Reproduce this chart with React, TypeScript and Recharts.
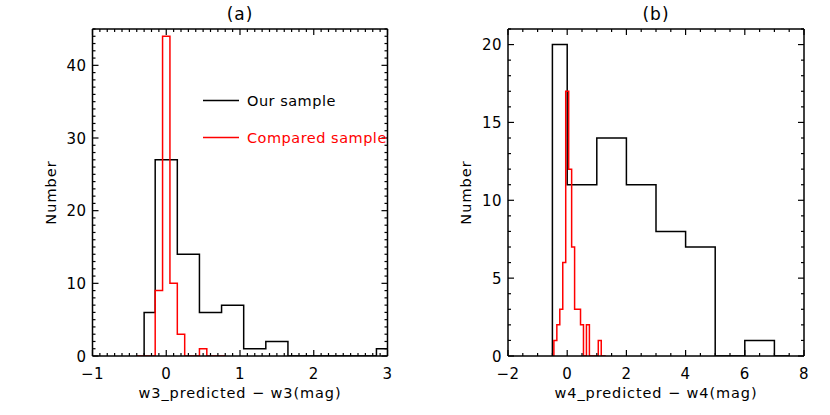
import React from "react";
import { LineChart, Line, XAxis, YAxis, Label } from "recharts";

// ── panel (a): w3 residuals ──
const blackCentersA = [-0.3, 0, 0.3, 0.6, 0.9, 1.2, 1.5, 1.8, 2.1, 2.4, 2.7, 3.0];
const blackCountsA = [6, 27, 14, 6, 7, 1, 2, 0, 0, 0, 0, 1];
const redCentersA = [-0.4, -0.3, -0.2, -0.1, 0, 0.1, 0.2, 0.3, 0.4, 0.5, 0.6, 0.7, 0.8];
const redCountsA = [0, 0, 0, 9, 44, 10, 3, 0, 0, 1, 0, 0, 0];
const xLabelsA = [-1, 0, 1, 2, 3];
const yLabelsA = [0, 10, 20, 30, 40];

// ── panel (b): w4 residuals ──
const blackCentersB = [-0.5, 0.5, 1.5, 2.5, 3.5, 4.5, 5.5, 6.5, 7.5];
const blackCountsB = [20, 11, 14, 11, 8, 7, 0, 1, 0];
const redCentersB = [-0.5, -0.4, -0.3, -0.2, -0.1, 0, 0.1, 0.2, 0.3, 0.4, 0.5, 0.6, 0.7, 0.8, 0.9, 1.0, 1.1, 1.2, 1.3];
const redCountsB = [0, 1, 2, 3, 6, 17, 12, 7, 3, 3, 2, 0, 2, 0, 0, 0, 1, 0, 0];
const xLabelsB = [-2, 0, 2, 4, 6, 8];
const yLabelsB = [0, 5, 10, 15, 20];

const legendItems = [
  { name: "Our sample", color: "#000000" },
  { name: "Compared sample", color: "#ff0000" },
];

const FONT = "'DejaVu Sans', sans-serif";

// IDL psym=10 style: half bins at the ends, plus a riser at the first point
function steps(centers: number[], counts: number[]) {
  const pts = [{ x: centers[0], y: 0 }, { x: centers[0], y: counts[0] }];
  for (let i = 1; i < centers.length; i++) {
    pts.push({ x: (centers[i - 1] + centers[i]) / 2, y: counts[i] });
  }
  pts.push({ x: centers[centers.length - 1], y: counts[counts.length - 1] });
  return pts;
}

function range(lo: number, hi: number, step: number) {
  const out: number[] = [];
  const n = Math.round((hi - lo) / step);
  for (let i = 0; i <= n; i++) out.push(+(lo + i * step).toFixed(6));
  return out;
}

const isMajor = (v: number, majors: number[]) => majors.some(m => Math.abs(m - v) < 1e-6);

function makeTick(side: "bottom" | "top" | "left" | "right", majors: number[]) {
  return (props: any) => {
    const { x, y, payload } = props;
    const v = payload.value;
    const major = isMajor(v, majors);
    const len = major ? 6 : 3;
    let line;
    if (side === "bottom") line = <line x1={x} y1={y} x2={x} y2={y - len} />;
    else if (side === "top") line = <line x1={x} y1={y} x2={x} y2={y + len} />;
    else if (side === "left") line = <line x1={x} y1={y} x2={x + len} y2={y} />;
    else line = <line x1={x} y1={y} x2={x - len} y2={y} />;
    return (
      <g stroke="#000" strokeWidth={1.2}>
        {line}
        {major && side === "bottom" && (
          <text x={x} y={y + 23} textAnchor="middle" stroke="none" fill="#000"
            fontFamily={FONT} fontSize={15} letterSpacing={0.5}>
            {v < 0 ? "\u2212" + Math.abs(v) : v}
          </text>
        )}
        {major && side === "left" && (
          <text x={x - 6} y={y + 5.5} textAnchor="end" stroke="none" fill="#000"
            fontFamily={FONT} fontSize={15} letterSpacing={0.5}>
            {v}
          </text>
        )}
      </g>
    );
  };
}

function LegendBox() {
  return (
    <svg width={190} height={60} style={{ position: "absolute", left: 203, top: 92 }}>
      {legendItems.map((it, i) => (
        <g key={it.name}>
          <line x1={0} x2={36} y1={8.5 + i * 37} y2={8.5 + i * 37} stroke={it.color} strokeWidth={1.5} />
          <text x={44} y={14 + i * 37} fill={it.color} fontFamily={FONT} fontSize={14.5} letterSpacing={0.5}>
            {it.name}
          </text>
        </g>
      ))}
    </svg>
  );
}

interface PanelProps {
  left: number;
  title: string;
  xTitle: string;
  xDomain: [number, number];
  xMinor: number;
  xLabels: number[];
  yDomain: [number, number];
  yMinor: number;
  yLabels: number[];
  black: { x: number; y: number }[];
  red: { x: number; y: number }[];
  plotLeft: number;
  plotWidth: number;
  showLegend?: boolean;
}

function Panel(p: PanelProps) {
  const W = 415;
  const H = 415;
  const top = 29;
  const bottom = 356;
  const xTicks = range(p.xDomain[0], p.xDomain[1], p.xMinor);
  const yTicks = range(p.yDomain[0], p.yDomain[1], p.yMinor);
  const axisLine = { stroke: "#000", strokeWidth: 1.5 };
  return (
    <div style={{ position: "absolute", left: p.left, top: 0, width: W, height: H }}>
      <LineChart
        width={W}
        height={H}
        margin={{ top: top - 1, left: p.plotLeft - 1, right: W - p.plotLeft - p.plotWidth - 1, bottom: H - bottom - 1 }}
      >
        <XAxis xAxisId="b" type="number" dataKey="x" domain={p.xDomain} allowDataOverflow
          ticks={xTicks} interval={0} height={1} tickSize={0} tickMargin={0} tickLine={false}
          axisLine={axisLine} tick={makeTick("bottom", p.xLabels)}>
          <Label content={({ viewBox }: any) => (
            <text x={viewBox.x + viewBox.width / 2} y={viewBox.y + 42} textAnchor="middle"
              fontFamily={FONT} fontSize={14.5} letterSpacing={0.9} fill="#000">{p.xTitle}</text>
          )} />
        </XAxis>
        <XAxis xAxisId="t" orientation="top" type="number" dataKey="x" domain={p.xDomain} allowDataOverflow
          ticks={xTicks} interval={0} height={1} tickSize={0} tickMargin={0} tickLine={false}
          axisLine={axisLine} tick={makeTick("top", p.xLabels)}>
          <Label content={({ viewBox }: any) => (
            <text x={viewBox.x + viewBox.width / 2} y={viewBox.y - 8} textAnchor="middle"
              fontFamily={FONT} fontSize={17} letterSpacing={1} fill="#000">{p.title}</text>
          )} />
        </XAxis>
        <YAxis yAxisId="l" type="number" domain={p.yDomain} allowDataOverflow
          ticks={yTicks} interval={0} width={1} tickSize={0} tickMargin={0} tickLine={false}
          axisLine={axisLine} tick={makeTick("left", p.yLabels)}>
          <Label content={({ viewBox }: any) => {
            const cx = viewBox.x - 36;
            const cy = viewBox.y + viewBox.height / 2;
            return (
              <text x={cx} y={cy} transform={`rotate(-90, ${cx}, ${cy})`} textAnchor="middle"
                fontFamily={FONT} fontSize={14.5} letterSpacing={1} fill="#000">Number</text>
            );
          }} />
        </YAxis>
        <YAxis yAxisId="r" orientation="right" type="number" domain={p.yDomain} allowDataOverflow
          ticks={yTicks} interval={0} width={1} tickSize={0} tickMargin={0} tickLine={false}
          axisLine={axisLine} tick={makeTick("right", p.yLabels)} />
        <Line xAxisId="b" yAxisId="l" data={p.black} dataKey="y" type="stepAfter" stroke="#000"
          strokeWidth={1.5} dot={false} activeDot={false} isAnimationActive={false} />
        <Line xAxisId="b" yAxisId="l" data={p.red} dataKey="y" type="stepAfter" stroke="#ff0000"
          strokeWidth={1.5} dot={false} activeDot={false} isAnimationActive={false} />
      </LineChart>
      {p.showLegend && <LegendBox />}
    </div>
  );
}

export default function App() {
  return (
    <div style={{ position: "absolute", left: 0, top: 0, width: 830, height: 415, background: "#fff" }}>
      <Panel left={0} title="(a)" xTitle="w3_predicted − w3(mag)" xDomain={[-1, 3]} xMinor={0.1}
        xLabels={xLabelsA} yDomain={[0, 45]} yMinor={1} yLabels={yLabelsA}
        black={steps(blackCentersA, blackCountsA)} red={steps(redCentersA, redCountsA)}
        plotLeft={92.5} plotWidth={295} showLegend />
      <Panel left={415} title="(b)" xTitle="w4_predicted − w4(mag)" xDomain={[-2, 8]} xMinor={0.5}
        xLabels={xLabelsB} yDomain={[0, 21]} yMinor={1} yLabels={yLabelsB}
        black={steps(blackCentersB, blackCountsB)} red={steps(redCentersB, redCountsB)}
        plotLeft={93} plotWidth={296} />
    </div>
  );
}
